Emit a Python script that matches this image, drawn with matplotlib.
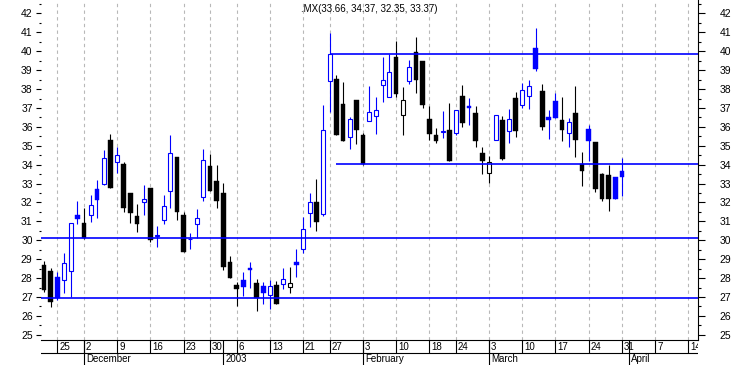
#!/usr/bin/env python
#
# Daily candlestick chart with support / resistance lines
#
import matplotlib
matplotlib.use('Agg')
import matplotlib.pyplot as plt
from matplotlib import font_manager
from matplotlib.ticker import MultipleLocator
import numpy as np
import pandas as pd
#
# Data: market days from 21 Nov 2002 to 31 Mar 2003
#
opens = [28.69, 28.38, 28.06, 27.88, 28.38, 31.34, 30.92, 31.32, 32.71, 33.00,
         35.31, 34.13, 34.04, 32.49, 31.30, 32.04, 32.77, 30.25, 31.09, 32.59,
         34.41, 31.34, 30.05, 30.88, 32.31, 33.93, 33.14, 32.50, 28.87, 27.63,
         27.90, 28.53, 27.74, 27.57, 27.09, 27.62, 27.67, 27.51, 28.85, 29.52,
         31.46, 32.01, 31.39, 38.41, 38.52, 37.20, 35.45, 37.41, 35.56, 36.30,
         36.56, 38.20, 37.57, 39.70, 36.61, 38.41, 39.95, 39.47, 36.42, 35.57,
         35.75, 35.84, 35.69, 37.63, 37.11, 36.72, 34.60, 33.54, 35.31, 36.37,
         35.77, 37.53, 37.14, 37.62, 40.17, 37.90, 36.52, 37.37, 36.37, 35.66,
         36.74, 34.02, 35.89, 35.20, 33.49, 33.45, 33.35, 33.66]
highs = [28.92, 28.52, 28.34, 29.34, 30.92, 32.08, 31.71, 32.40, 33.19, 34.76,
         35.62, 34.94, 34.13, 32.50, 31.92, 32.93, 32.77, 30.76, 32.40, 35.57,
         34.41, 31.48, 30.39, 31.66, 34.83, 34.55, 33.98, 33.01, 29.17, 27.78,
         28.31, 28.85, 27.95, 27.79, 27.88, 27.83, 28.53, 28.59, 29.54, 31.22,
         32.50, 33.23, 37.16, 40.98, 38.75, 38.38, 36.54, 37.41, 35.69, 38.16,
         37.58, 39.70, 39.87, 40.54, 38.13, 39.54, 40.76, 39.49, 37.11, 35.96,
         36.84, 37.26, 36.89, 38.22, 37.51, 37.09, 34.94, 34.46, 36.61, 36.58,
         36.95, 37.86, 38.34, 38.48, 41.23, 38.27, 36.89, 37.81, 37.58, 36.47,
         38.16, 34.66, 36.08, 35.20, 33.54, 34.00, 33.35, 34.37]
lows = [27.25, 26.49, 26.86, 27.23, 27.00, 30.88, 30.05, 30.95, 31.20, 32.93,
        32.75, 33.58, 31.51, 30.93, 30.45, 31.34, 29.91, 29.66, 30.86, 31.73,
        31.09, 29.40, 29.54, 30.10, 32.08, 32.62, 31.73, 28.44, 28.02, 26.54,
        27.05, 27.48, 26.28, 26.61, 26.38, 26.61, 27.41, 27.20, 28.07, 29.31,
        30.69, 30.51, 31.30, 36.80, 35.59, 35.27, 34.85, 35.08, 33.98, 36.30,
        35.64, 37.33, 37.57, 37.60, 35.57, 38.25, 37.81, 37.00, 35.31, 35.16,
        35.43, 34.21, 35.57, 36.01, 36.08, 34.95, 33.49, 33.05, 35.31, 34.25,
        35.16, 35.48, 36.98, 36.96, 38.96, 35.84, 35.34, 36.49, 35.27, 34.95,
        34.42, 32.89, 34.21, 32.56, 32.10, 31.55, 32.20, 32.35]
closes = [27.39, 26.75, 26.93, 28.80, 30.92, 31.14, 30.10, 31.85, 32.15, 34.34,
          32.75, 34.51, 31.73, 31.46, 30.88, 32.19, 30.03, 30.28, 31.81, 34.60,
          31.51, 29.40, 30.07, 31.16, 34.25, 32.62, 32.09, 28.59, 28.02, 27.42,
          27.55, 28.44, 26.96, 27.20, 27.57, 26.61, 27.94, 27.72, 28.71, 30.58,
          32.04, 30.98, 35.82, 39.86, 35.59, 35.27, 36.40, 35.85, 34.04, 36.77,
          36.88, 38.50, 38.89, 37.76, 37.41, 39.15, 38.50, 37.17, 35.64, 35.27,
          35.78, 34.21, 36.89, 36.22, 37.02, 35.27, 34.21, 34.16, 36.61, 34.32,
          36.42, 35.77, 37.94, 38.15, 39.08, 36.01, 36.38, 36.49, 35.85, 36.24,
          35.32, 33.68, 35.27, 32.73, 32.20, 32.19, 32.21, 33.37]
first_day = '2002-11-21'
last_axis_day = '2003-04-18'
holidays = ['2002-11-28', '2002-12-25', '2003-01-01', '2003-01-20', '2003-02-17']
# horizontal lines drawn across the whole chart
full_lines = [26.93, 30.10]
# lines drawn from a given day to the right edge
start_lines = [('2003-01-27', 39.86), ('2003-01-28', 34.02)]
ticker = '.MX'
#
# Some settings
#
BLUE = '#0000ff'
W, H = 738, 365
L, R, B = 41, 698, 340          # plot box in pixels
XLIM = (-0.454, 98.46)
YLIM = (24.725, 42.714)

names = [f.name for f in font_manager.fontManager.ttflist]
font = 'Liberation Sans' if 'Liberation Sans' in names else 'DejaVu Sans'
title_font = 'Liberation Sans Narrow' if 'Liberation Sans Narrow' in names else font
plt.rcParams['font.family'] = font

days = pd.bdate_range(first_day, last_axis_day)
days = days[~days.isin(pd.to_datetime(holidays))]
x = np.arange(len(opens))
o, h, l, c = map(np.array, (opens, highs, lows, closes))

# first market day of each week / month (skip the partial first ones)
wk = pd.Series(days.isocalendar().week.values)
week_idx = [i for i in range(1, len(days)) if wk[i] != wk[i - 1]]
month_idx = [i for i in range(1, len(days)) if days[i].month != days[i - 1].month]

def month_label(d):
  return str(d.year) if d.month == 1 else d.strftime('%B')

#
# Plot
#
fig = plt.figure(figsize=(W / 100, H / 100), dpi=100)
ax = fig.add_axes([L / W, 1 - B / H, (R - L) / W, B / H])
ax.set_xlim(*XLIM)
ax.set_ylim(*YLIM)

# week grid
ax.vlines(week_idx, *YLIM, colors='#b8b8b8', linestyles=(0, (3, 3)), lw=0.8, zorder=1)

# support / resistance
for lev in full_lines:
  ax.axhline(lev, color=BLUE, lw=1.2, zorder=4)
for d, lev in start_lines:
  i0 = days.get_loc(pd.Timestamp(d))
  ax.hlines(lev, i0, XLIM[1], colors=BLUE, lw=1.2, zorder=4)

# candles: blue if up from previous close, hollow if close above open
prev = np.r_[np.inf, c[:-1]]
col = np.where(c > prev, BLUE, 'black')
hollow = c > o
ax.vlines(x, l, h, colors=col, lw=0.8, zorder=2)
bot = np.minimum(o, c)
hgt = np.maximum(np.abs(c - o), 0.02)
ax.bar(x[~hollow], hgt[~hollow], 0.7, bot[~hollow], color=col[~hollow],
       edgecolor=col[~hollow], lw=0.3, zorder=3)
ax.bar(x[hollow], hgt[hollow], 0.6, bot[hollow], color='white',
       edgecolor=col[hollow], lw=0.8, zorder=3)

# axes cosmetics
for s in ['left', 'top', 'right']:
  ax.spines[s].set_visible(False)
ax.spines['bottom'].set_linewidth(0.8)
ax.set_xticks([])
ax.yaxis.set_major_locator(MultipleLocator(1))
ax.yaxis.set_minor_locator(MultipleLocator(0.5))
ax.tick_params(axis='y', which='major', length=3.5, width=0.8, pad=2.5, labelsize=7.5)
ax.tick_params(axis='y', which='minor', length=1.5, width=0.8)

ax2 = ax.twinx()
ax2.set_ylim(*YLIM)
for s in ['left', 'top', 'bottom']:
  ax2.spines[s].set_visible(False)
ax2.spines['right'].set_linewidth(0.8)
ax2.yaxis.set_major_locator(MultipleLocator(1))
ax2.yaxis.set_minor_locator(MultipleLocator(0.5))
ax2.tick_params(axis='y', which='major', length=5, width=0.8, pad=10.5, labelsize=7.5)
ax2.tick_params(axis='y', which='minor', length=2.5, width=0.8)

# title with last bar
ax.text(0.5, 1 - 9 / H, f'{ticker}({o[-1]:.2f}, {h[-1]:.2f}, {l[-1]:.2f}, {c[-1]:.2f})',
        transform=fig.transFigure, ha='center', va='center', fontsize=7,
        family=title_font)

#
# Date rows below the chart
#
bx = fig.add_axes([L / W, 0, (R - L) / W, 25 / H])
bx.set_xlim(*XLIM)
bx.set_ylim(0, 25)
bx.axis('off')
bx.axhline(12, color='black', lw=0.8)
bx.vlines(week_idx, 12, 25, colors='black', lw=0.8)
bx.vlines(month_idx, 0, 25, colors='black', lw=0.8)
for i in week_idx:
  bx.text(i + 0.3, 18.5, str(days[i].day), ha='left', va='center', fontsize=7, clip_on=True)
for i in month_idx:
  bx.text(i + 0.3, 5.5, month_label(days[i]), ha='left', va='center', fontsize=7, clip_on=True)

plt.savefig('out.png', dpi=100)
